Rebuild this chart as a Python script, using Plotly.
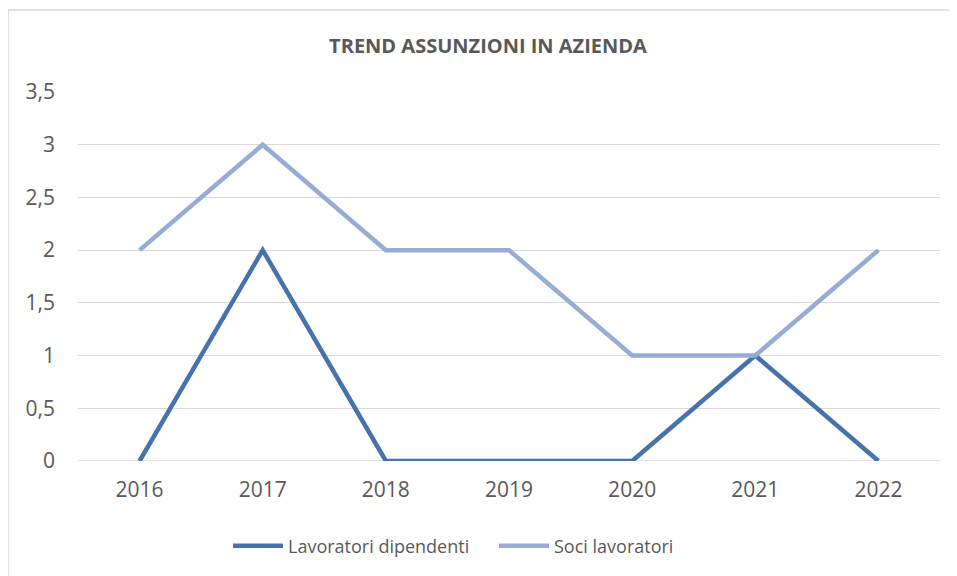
import plotly.graph_objects as go

years = ["2016", "2017", "2018", "2019", "2020", "2021", "2022"]
dipendenti = [0, 2, 0, 0, 0, 1, 0]
soci = [2, 3, 2, 2, 1, 1, 2]
y_ticks = [0, 0.5, 1, 1.5, 2, 2.5, 3, 3.5]
y_tick_labels = ["0", "0,5", "1", "1,5", "2", "2,5", "3", "3,5"]

FONT = "Open Sans, Liberation Sans, sans-serif"
GREY = "#595959"

# page body has an 8px margin, so the figure is drawn 8px in from the window edge
W, H = 949, 568
L, T = 70, 84
PW, PH = 862, 369
R = W - L - PW
B = H - T - PH

fig = go.Figure()
fig.add_trace(go.Scatter(x=years, y=dipendenti, mode="lines", name="Lavoratori dipendenti",
                         line=dict(color="#4673AB", width=4.5)))
fig.add_trace(go.Scatter(x=years, y=soci, mode="lines", name="Soci lavoratori",
                         line=dict(color="#96ADD6", width=4.5)))

fig.update_layout(
    width=W, height=H,
    margin=dict(l=L, r=R, t=T, b=B, autoexpand=False),
    paper_bgcolor="white", plot_bgcolor="white",
    title=dict(text="<b>TREND ASSUNZIONI IN AZIENDA</b>", x=(488 - 8) / W, xanchor="center",
               y=1 - 38 / H, yanchor="middle",
               font=dict(family=FONT, size=20, color=GREY)),
    font=dict(family=FONT, size=18, color=GREY),
    xaxis=dict(type="category", range=[-0.5, 6.5], showgrid=False, zeroline=False,
               showline=False, ticks="", ticklabelstandoff=14,
               tickfont=dict(size=21, color=GREY)),
    yaxis=dict(range=[0, 3.5], tickvals=y_ticks, ticktext=y_tick_labels,
               showgrid=True, gridcolor="#D9D9D9", gridwidth=1, zeroline=False,
               showline=False, ticks="", ticklabelstandoff=22,
               tickfont=dict(size=21, color=GREY)),
    legend=dict(orientation="h", x=(238 - 8 - 10 - L) / PW, xanchor="left",
                y=-(538 - T - PH) / PH, yanchor="middle",
                font=dict(size=18, color=GREY), itemwidth=50, entrywidth=201,
                entrywidthmode="pixels"),
    showlegend=True,
    shapes=[dict(type="rect", xref="paper", yref="paper",
                 x0=-L / PW, x1=1.2, y0=-0.6, y1=1 + (T - 2) / PH,
                 line=dict(color="#D9D9D9", width=1.5), layer="below")],
)
fig.add_shape(type="line", xref="paper", yref="y", x0=0, x1=1, y0=0, y1=0,
              line=dict(color="#D9D9D9", width=1.5), layer="below")

fig.write_html("out.html")
